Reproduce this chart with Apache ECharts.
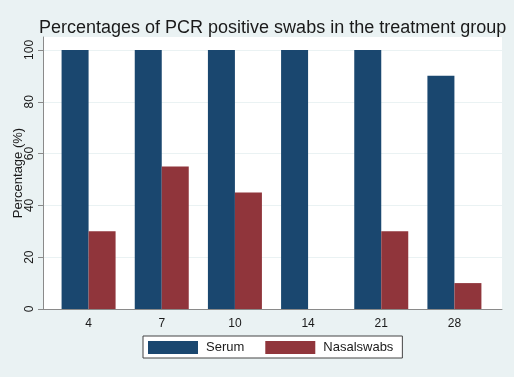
<!DOCTYPE html>
<html>
<head>
<meta charset="utf-8">
<script src="https://cdn.jsdelivr.net/npm/echarts@6/dist/echarts.min.js"></script>
<style>
  html, body { margin: 0; padding: 0; background: #eaf2f3; }
  #chart { width: 514px; height: 377px; }
</style>
</head>
<body>
<div id="chart"></div>
<script>
const days = ['4', '7', '10', '14', '21', '28'];
const serum = [100, 100, 100, 100, 100, 90];
const nasalSwabs = [30, 55, 45, 0, 30, 10];
const yTicks = [0, 20, 40, 60, 80, 100];

const font = 'Liberation Sans, Arial, sans-serif';
const chart = echarts.init(document.getElementById('chart'));

chart.setOption({
  backgroundColor: '#eaf2f3',
  animation: false,
  title: {
    text: 'Percentages of PCR positive swabs in the treatment group',
    left: 34,
    top: 14,
    textStyle: { fontFamily: font, fontSize: 18, fontWeight: 'normal', color: '#1a1a1a' }
  },
  legend: {
    bottom: 19,
    left: 143,
    icon: 'rect',
    itemWidth: 50,
    itemHeight: 13,
    itemGap: 21,
    padding: [5, 9, 4, 5],
    backgroundColor: '#fff',
    borderColor: '#444',
    borderWidth: 1,
    borderRadius: 0,
    textStyle: { fontFamily: font, fontSize: 13, color: '#1a1a1a', padding: [0, 0, 0, 3] },
    data: ['Serum', 'Nasalswabs']
  },
  grid: [
    { left: 43, top: 37, width: 459, height: 272, show: true, backgroundColor: '#fff', borderWidth: 0 },
    { left: 52, top: 37, width: 439, height: 272 }
  ],
  xAxis: [
    {
      gridIndex: 0, type: 'category', data: days,
      axisLine: { lineStyle: { color: '#8a8a8a' } },
      axisTick: { show: false }, axisLabel: { show: false }
    },
    {
      gridIndex: 1, type: 'category', data: days,
      axisLine: { show: false }, axisTick: { show: false },
      axisLabel: { fontFamily: font, fontSize: 12, color: '#1a1a1a', margin: 9 }
    }
  ],
  yAxis: [
    {
      gridIndex: 0, type: 'value', min: 0, max: 105, interval: 20,
      name: 'Percentage (%)', nameLocation: 'middle', nameGap: 18, nameMoveOverlap: false,
      nameTextStyle: { fontFamily: font, fontSize: 13, color: '#1a1a1a' },
      axisLine: { show: true, lineStyle: { color: '#8a8a8a' } },
      axisTick: { show: true, length: 5, lineStyle: { color: '#8a8a8a' }, customValues: yTicks },
      axisLabel: { rotate: 90, fontFamily: font, fontSize: 12, color: '#1a1a1a', margin: 7, customValues: yTicks },
      splitLine: { lineStyle: { color: '#eaf2f3', width: 1 } }
    },
    {
      gridIndex: 1, type: 'value', min: 0, max: 105,
      show: false, splitLine: { show: false }
    }
  ],
  series: [
    {
      name: 'Serum', type: 'bar', xAxisIndex: 1, yAxisIndex: 1,
      data: serum, barWidth: 27, barGap: '0%',
      itemStyle: { color: '#1a476f' }
    },
    {
      name: 'Nasalswabs', type: 'bar', xAxisIndex: 1, yAxisIndex: 1,
      data: nasalSwabs, barWidth: 27, barGap: '0%',
      itemStyle: { color: '#90353b' }
    }
  ]
});
</script>
</body>
</html>
